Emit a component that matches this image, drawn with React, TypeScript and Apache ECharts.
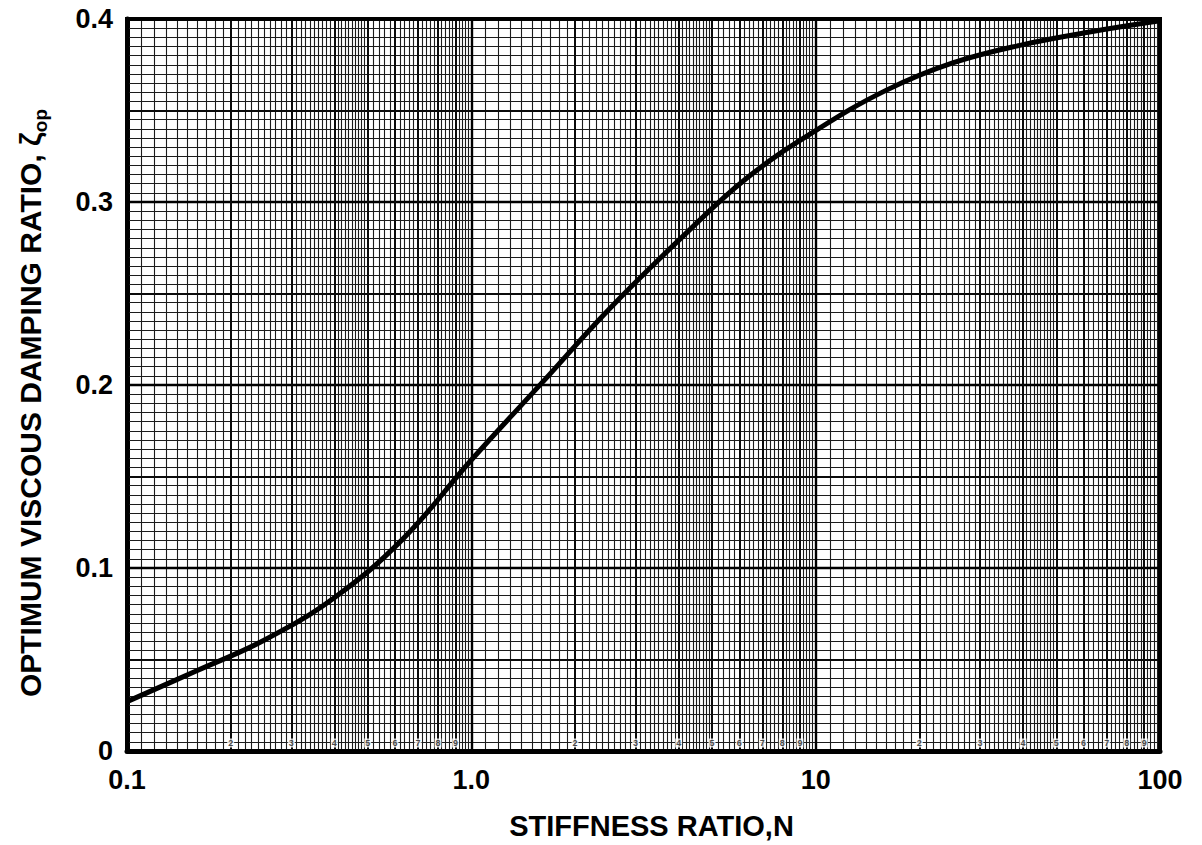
import React, { useEffect, useRef } from "react";
import * as echarts from "echarts";

// Optimum viscous damping ratio against stiffness ratio N (semi-log graph paper)
const STIFFNESS_RATIO = [0.1, 0.16, 0.25, 0.4, 0.63, 1.0, 1.6, 2.5, 4.0, 6.3, 10, 16, 25, 40, 63, 100];
const DAMPING_RATIO = [0.027, 0.044, 0.0605, 0.0838, 0.1155, 0.159, 0.201, 0.241, 0.279, 0.313, 0.339, 0.361, 0.376, 0.386, 0.393, 0.399];

const X_TICKS = [0.1, 1, 10, 100];
const X_TICK_LABELS = ["0.1", "1.0", "10", "100"];
const Y_MIN = 0;
const Y_MAX = 0.4;
const Y_STEP = 0.1;

// printed cycle digits along the bottom edge of the paper
const CYCLE_DIGITS = ["2", "3", "4", "5", "6", "7", "8", "9"];
const DECADES = [0.1, 1, 10];

const FONT = "'Liberation Sans', Arial, sans-serif";

function paperRulings() {
  const fine: number[] = [];
  const major: number[] = [];
  const decade: number[] = [];
  DECADES.forEach((d) => {
    decade.push(d);
    for (let i = 11; i < 50; i++) {
      if (i % 10 === 0) major.push((i / 10) * d);
      else fine.push((i / 10) * d);
    }
    for (let i = 50; i < 100; i += 2) {
      if (i % 10 === 0) major.push((i / 10) * d);
      else fine.push((i / 10) * d);
    }
  });
  decade.push(100);
  const hFine: number[] = [];
  const hMid: number[] = [];
  const hMajor: number[] = [];
  for (let k = 1; k < 80; k++) {
    const y = k * 0.005;
    if (k % 20 === 0) hMajor.push(y);
    else if (k % 10 === 0) hMid.push(y);
    else hFine.push(y);
  }
  return { fine, major, decade, hFine, hMajor, hMid };
}

export default function App() {
  const ref = useRef<HTMLDivElement>(null);

  useEffect(() => {
    if (!ref.current) return;
    const chart = echarts.init(ref.current, null, { renderer: "svg" });
    const r = paperRulings();
    const vLines = (xs: number[]) => xs.map((x) => ({ coords: [[x, Y_MIN], [x, Y_MAX]] }));
    const hLines = (ys: number[]) => ys.map((y) => ({ coords: [[0.1, y], [100, y]] }));
    const ruling = (data: any[], width: number, color: string) => ({
      type: "lines",
      coordinateSystem: "cartesian2d",
      silent: true,
      z: 1,
      polyline: false,
      lineStyle: { color, width, opacity: 1, type: "solid" },
      data,
    });

    const digitData: any[] = [];
    DECADES.forEach((d) => {
      CYCLE_DIGITS.forEach((s) => {
        digitData.push({ value: [Number(s) * d, 0], name: s });
      });
    });

    chart.setOption({
      animation: false,
      backgroundColor: "#ffffff",
      grid: {
        left: 127,
        right: 42,
        top: 19,
        bottom: 94,
        show: true,
        borderColor: "#000",
        borderWidth: 4,
        z: 5,
      },
      graphic: [
        {
          type: "text",
          x: 30,
          y: 403,
          rotation: Math.PI / 2,
          silent: true,
          style: {
            text: "{t|OPTIMUM VISCOUS DAMPING RATIO, ζ}{s|op}",
            align: "center",
            verticalAlign: "middle",
            fill: "#000",
            rich: {
              t: { fontFamily: FONT, fontWeight: "bold", fontSize: 30, lineHeight: 40, fill: "#000" },
              s: { fontFamily: FONT, fontWeight: "bold", fontSize: 19, lineHeight: 20, verticalAlign: "bottom", fill: "#000" },
            },
          },
        },
      ],
      xAxis: {
        type: "log",
        logBase: 10,
        min: 0.1,
        max: 100,
        name: "STIFFNESS RATIO,N",
        nameLocation: "middle",
        nameGap: 60,
        nameTextStyle: { fontFamily: FONT, fontWeight: "bold", fontSize: 29, color: "#000", padding: [0, 0, 0, 16] },
        axisLine: { show: true, lineStyle: { color: "#000", width: 5 } },
        axisTick: { show: false },
        splitLine: { show: false },
        axisLabel: {
          margin: 15,
          fontFamily: FONT,
          fontWeight: "bold",
          fontSize: 27,
          color: "#000",
          showMinLabel: true,
          showMaxLabel: true,
          formatter: (v: number) => {
            const i = X_TICKS.findIndex((t) => Math.abs(Math.log10(v) - Math.log10(t)) < 1e-6);
            return i >= 0 ? X_TICK_LABELS[i] : "";
          },
        },
      },
      yAxis: {
        type: "value",
        min: Y_MIN,
        max: Y_MAX,
        interval: Y_STEP,
        axisLine: { show: true, lineStyle: { color: "#000", width: 5 } },
        axisTick: { show: false },
        splitLine: { show: false },
        axisLabel: {
          margin: 14,
          fontFamily: FONT,
          fontWeight: "bold",
          fontSize: 27,
          color: "#000",
          formatter: (v: number) => (v === 0 ? "0" : v.toFixed(1)),
        },
      },
      series: [
        ruling(vLines(r.fine), 1.1, "#1c1c1c"),
        ruling(hLines(r.hFine), 1.1, "#1c1c1c"),
        ruling(hLines(r.hMid), 2, "#0a0a0a"),
        ruling(hLines(r.hMajor), 2.4, "#000"),
        ruling(vLines(r.major), 2, "#0a0a0a"),
        ruling(vLines(r.decade), 2.4, "#000"),
        {
          type: "scatter",
          silent: true,
          z: 6,
          symbolSize: 1,
          itemStyle: { color: "rgba(0,0,0,0)" },
          labelLayout: { hideOverlap: false },
          label: {
            show: true,
            position: "top",
            distance: 3,
            formatter: (p: any) => p.name,
            fontFamily: FONT,
            fontWeight: "bold",
            fontSize: 9,
            color: "#222",
            backgroundColor: "#fff",
            padding: [0, 1, 0, 1],
          },
          data: digitData,
        },
        {
          type: "line",
          z: 10,
          smooth: 0.4,
          showSymbol: false,
          symbol: "none",
          lineStyle: { color: "#000", width: 5 },
          data: STIFFNESS_RATIO.map((x, i) => [x, DAMPING_RATIO[i]]),
        },
      ],
    });
    return () => chart.dispose();
  }, []);

  return (
    <div
      ref={ref}
      style={{ position: "absolute", left: 0, top: 0, width: 1202, height: 845, background: "#fff" }}
    />
  );
}
